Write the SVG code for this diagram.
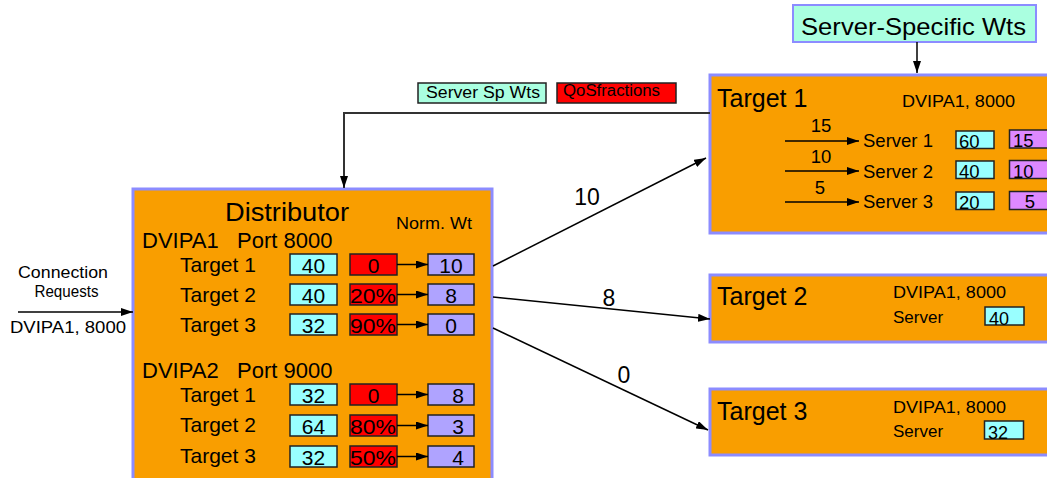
<svg xmlns="http://www.w3.org/2000/svg" width="1047" height="478" viewBox="0 0 1047 478">
  <defs>
    <marker id="ah" viewBox="0 0 12 8" refX="12" refY="4" markerWidth="12" markerHeight="8" markerUnits="userSpaceOnUse" orient="auto">
      <path d="M0,0 L12,4 L0,8 z" fill="#000"/>
    </marker>
    <style>
      text{font-family:"Liberation Sans",Arial,sans-serif;fill:#000}
      .panel{fill:#F99E00;stroke:#8C8CFF;stroke-width:3}
      .cy{fill:#99FFFF;stroke:#222;stroke-width:1.5}
      .rd{fill:#FF0000;stroke:#222;stroke-width:1.5}
      .lv{fill:#AFA3FF;stroke:#222;stroke-width:1.5}
      .mg{fill:#DD88FF;stroke:#222;stroke-width:1.5}
      .mint{fill:#AAFFE0}
      .wire{stroke:#000;stroke-width:1.5;fill:none}
      .row{font-size:21px}
      .mid{text-anchor:middle}
      .small{font-size:16px}
      .srv{font-size:18.5px}
      .ttl{font-size:25px}
    </style>
  </defs>

  <rect width="1047" height="478" fill="#fff"/>

  <!-- Distributor panel -->
  <g id="distributor">
    <rect class="panel" x="133" y="189" width="359" height="300"/>
    <text x="287" y="221" font-size="26" class="mid" textLength="124" lengthAdjust="spacingAndGlyphs">Distributor</text>
    <text x="396" y="229" font-size="17" textLength="76" lengthAdjust="spacingAndGlyphs">Norm. Wt</text>
    <text font-size="22" y="248"><tspan x="142">DVIPA1</tspan><tspan x="237">Port 8000</tspan></text>
    <text font-size="22" y="378"><tspan x="142">DVIPA2</tspan><tspan x="237">Port 9000</tspan></text>

    <!-- DVIPA1 rows -->
    <g id="d1-t1">
      <text class="row" x="180" y="272">Target 1</text>
      <rect class="cy" x="290" y="254" width="47" height="21"/>
      <text class="row mid" x="313.5" y="273">40</text>
      <rect class="rd" x="350" y="254" width="47" height="21"/>
      <text class="row mid" x="373.5" y="273" fill="#200">0</text>
      <rect class="lv" x="428" y="254" width="46" height="21"/>
      <text class="row mid" x="451" y="273">10</text>
      <line class="wire" x1="397" y1="264.5" x2="428" y2="264.5" marker-end="url(#ah)"/>
    </g>
    <g id="d1-t2">
      <text class="row" x="180" y="302">Target 2</text>
      <rect class="cy" x="290" y="284" width="47" height="21"/>
      <text class="row mid" x="313.5" y="303">40</text>
      <rect class="rd" x="350" y="284" width="47" height="21"/>
      <text class="row mid" x="373" y="303" textLength="46" lengthAdjust="spacingAndGlyphs">20%</text>
      <rect class="lv" x="428" y="284" width="46" height="21"/>
      <text class="row mid" x="451" y="303">8</text>
      <line class="wire" x1="397" y1="294.5" x2="428" y2="294.5" marker-end="url(#ah)"/>
    </g>
    <g id="d1-t3">
      <text class="row" x="180" y="332">Target 3</text>
      <rect class="cy" x="290" y="314" width="47" height="21"/>
      <text class="row mid" x="313.5" y="333">32</text>
      <rect class="rd" x="350" y="314" width="47" height="21"/>
      <text class="row mid" x="373" y="333" textLength="46" lengthAdjust="spacingAndGlyphs">90%</text>
      <rect class="lv" x="428" y="314" width="46" height="21"/>
      <text class="row mid" x="451" y="333">0</text>
      <line class="wire" x1="397" y1="324.5" x2="428" y2="324.5" marker-end="url(#ah)"/>
    </g>

    <!-- DVIPA2 rows -->
    <g id="d2-t1">
      <text class="row" x="180" y="402">Target 1</text>
      <rect class="cy" x="290" y="384" width="47" height="21"/>
      <text class="row mid" x="313.5" y="403">32</text>
      <rect class="rd" x="350" y="384" width="47" height="21"/>
      <text class="row mid" x="373.5" y="403" fill="#200">0</text>
      <rect class="lv" x="428" y="384" width="46" height="21"/>
      <text class="row mid" x="458" y="403">8</text>
      <line class="wire" x1="397" y1="394.5" x2="428" y2="394.5" marker-end="url(#ah)"/>
    </g>
    <g id="d2-t2">
      <text class="row" x="180" y="432">Target 2</text>
      <rect class="cy" x="290" y="415" width="47" height="21"/>
      <text class="row mid" x="313.5" y="434">64</text>
      <rect class="rd" x="350" y="415" width="47" height="21"/>
      <text class="row mid" x="373" y="434" textLength="46" lengthAdjust="spacingAndGlyphs">80%</text>
      <rect class="lv" x="428" y="415" width="46" height="21"/>
      <text class="row mid" x="458" y="434">3</text>
      <line class="wire" x1="397" y1="425.5" x2="428" y2="425.5" marker-end="url(#ah)"/>
    </g>
    <g id="d2-t3">
      <text class="row" x="180" y="463">Target 3</text>
      <rect class="cy" x="290" y="446" width="47" height="21"/>
      <text class="row mid" x="313.5" y="465">32</text>
      <rect class="rd" x="350" y="446" width="47" height="21"/>
      <text class="row mid" x="373" y="465" textLength="46" lengthAdjust="spacingAndGlyphs">50%</text>
      <rect class="lv" x="428" y="446" width="46" height="21"/>
      <text class="row mid" x="458" y="465">4</text>
      <line class="wire" x1="397" y1="456.5" x2="428" y2="456.5" marker-end="url(#ah)"/>
    </g>
  </g>

  <!-- Target 1 panel -->
  <g id="target1">
    <rect class="panel" x="710" y="75" width="345" height="158"/>
    <text class="ttl" x="717" y="107">Target 1</text>
    <text class="small" x="902" y="107" textLength="113" lengthAdjust="spacingAndGlyphs">DVIPA1, 8000</text>

    <text class="srv mid" x="821" y="132">15</text>
    <line class="wire" x1="785" y1="141" x2="859" y2="141" marker-end="url(#ah)"/>
    <text class="srv" x="863" y="147">Server 1</text>
    <rect class="cy" x="956" y="131" width="38" height="17.5"/>
    <text class="srv" x="959" y="147.5">60</text>
    <rect class="mg" x="1009.5" y="130" width="50" height="18"/>
    <text class="srv" x="1013" y="147">15</text>

    <text class="srv mid" x="821" y="163">10</text>
    <line class="wire" x1="785" y1="171" x2="859" y2="171" marker-end="url(#ah)"/>
    <text class="srv" x="863" y="177.5">Server 2</text>
    <rect class="cy" x="956" y="161" width="38" height="17.5"/>
    <text class="srv" x="959" y="178">40</text>
    <rect class="mg" x="1009.5" y="160.5" width="50" height="18"/>
    <text class="srv" x="1013" y="177.5">10</text>

    <text class="srv mid" x="820" y="193.5">5</text>
    <line class="wire" x1="785" y1="202" x2="859" y2="202" marker-end="url(#ah)"/>
    <text class="srv" x="863" y="208">Server 3</text>
    <rect class="cy" x="956" y="192" width="38" height="17.5"/>
    <text class="srv" x="959" y="209">20</text>
    <rect class="mg" x="1009.5" y="191.5" width="50" height="18"/>
    <text class="srv mid" x="1030" y="208">5</text>
  </g>

  <!-- Target 2 panel -->
  <g id="target2">
    <rect class="panel" x="710" y="275" width="345" height="67"/>
    <text class="ttl" x="717" y="305">Target 2</text>
    <text class="small" x="893" y="298" textLength="113" lengthAdjust="spacingAndGlyphs">DVIPA1, 8000</text>
    <text font-size="17" x="893" y="323">Server</text>
    <rect class="cy" x="985" y="307" width="39" height="18"/>
    <text font-size="18" x="989" y="325">40</text>
  </g>

  <!-- Target 3 panel -->
  <g id="target3">
    <rect class="panel" x="710" y="389" width="345" height="66"/>
    <text class="ttl" x="717" y="420">Target 3</text>
    <text class="small" x="893" y="412.5" textLength="113" lengthAdjust="spacingAndGlyphs">DVIPA1, 8000</text>
    <text font-size="17" x="893" y="437">Server</text>
    <rect class="cy" x="984.5" y="421" width="39" height="18"/>
    <text font-size="18" x="988" y="439">32</text>
  </g>

  <!-- Weight source -->
  <g id="server-specific-wts">
    <rect class="mint" x="793" y="5" width="243" height="37" stroke="#8C8CFF" stroke-width="2"/>
    <text x="801" y="35" font-size="24" textLength="225" lengthAdjust="spacingAndGlyphs">Server-Specific Wts</text>
  </g>

  <!-- Legend -->
  <g id="legend">
    <rect class="mint" x="418" y="83" width="128" height="20" stroke="#222" stroke-width="1.5"/>
    <text x="426" y="98" font-size="16" textLength="114" lengthAdjust="spacingAndGlyphs">Server Sp Wts</text>
    <rect x="557" y="83" width="119" height="20" fill="#FF0000" stroke="#222" stroke-width="1.5"/>
    <text x="563" y="96" font-size="16" textLength="97" lengthAdjust="spacingAndGlyphs" fill="#200">QoSfractions</text>
  </g>

  <!-- Incoming requests -->
  <g id="requests">
    <text x="63" y="278" font-size="17" class="mid" textLength="90" lengthAdjust="spacingAndGlyphs">Connection</text>
    <text x="66.5" y="297" font-size="17" class="mid" textLength="64" lengthAdjust="spacingAndGlyphs">Requests</text>
    <text x="10" y="333" font-size="17" textLength="116" lengthAdjust="spacingAndGlyphs">DVIPA1, 8000</text>
  </g>

  <!-- Connectors -->
  <g id="connectors">
    <line class="wire" x1="917" y1="42" x2="917" y2="73" marker-end="url(#ah)"/>
    <path d="M710,113 H344 V188" stroke="#333" stroke-width="2" fill="none" marker-end="url(#ah)"/>
    <line class="wire" x1="18" y1="312" x2="133" y2="312" marker-end="url(#ah)"/>
    <line class="wire" x1="493" y1="266" x2="706" y2="158" marker-end="url(#ah)"/>
    <line class="wire" x1="493" y1="297" x2="710" y2="319" marker-end="url(#ah)"/>
    <line class="wire" x1="493" y1="328" x2="708" y2="430" marker-end="url(#ah)"/>
    <text x="587" y="205" font-size="23" class="mid">10</text>
    <text x="609" y="306" font-size="23" class="mid">8</text>
    <text x="624" y="383" font-size="23" class="mid">0</text>
  </g>
</svg>
